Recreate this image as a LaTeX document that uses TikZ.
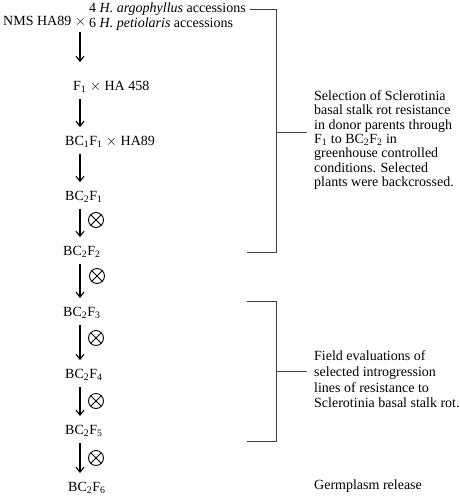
\documentclass[tikz,border=0pt]{standalone}
\usepackage{fontspec}
\setmainfont{Liberation Serif}
\usetikzlibrary{arrows.meta}
\tikzset{
  every node/.style={font=\fontsize{14}{15}\selectfont, inner sep=1pt},
  gen/.style={anchor=west},
  note/.style={anchor=west, align=left, inner xsep=7pt},
  arr/.style={-{Straight Barb[length=5pt,width=8pt]}, line width=1.1pt, shorten <=5pt, shorten >=8pt},
  brk/.style={line width=0.9pt, draw=black!75},
  selfx/.style={circle, draw, line width=0.9pt, minimum size=15pt, inner sep=0pt,
    path picture={\draw[line width=0.9pt] (path picture bounding box.north west) -- (path picture bounding box.south east)
      (path picture bounding box.north east) -- (path picture bounding box.south west);}},
}
\begin{document}
\begin{tikzpicture}[x=1pt,y=-1pt]
\useasboundingbox (0,0) rectangle (459,498);
% initial crosses
\node[gen] (nms) at (2,21) {NMS HA89 $\times$};
\node[gen] (acc1) at (88,9) {4 \textit{H. argophyllus} accessions};
\node[gen] (acc2) at (88,24) {6 \textit{H. petiolaris} accessions};
\node[gen] (f1) at (72,87) {F\textsubscript{1} $\times$ HA 458};
\node[gen] (bc1) at (64,142) {BC\textsubscript{1}F\textsubscript{1} $\times$ HA89};
% backcross progeny, selfed
\node[gen] (bc21) at (64,197) {BC\textsubscript{2}F\textsubscript{1}};
\node[gen] (bc22) at (62,252) {BC\textsubscript{2}F\textsubscript{2}};
\node[gen] (bc23) at (62,313) {BC\textsubscript{2}F\textsubscript{3}};
\node[gen] (bc24) at (64,375) {BC\textsubscript{2}F\textsubscript{4}};
\node[gen] (bc25) at (64,431) {BC\textsubscript{2}F\textsubscript{5}};
\node[gen] (bc26) at (67,488) {BC\textsubscript{2}F\textsubscript{6}};
\node[selfx] (s1) at (96,220) {};
\node[selfx] (s2) at (97,276) {};
\node[selfx] (s3) at (96,338) {};
\node[selfx] (s4) at (96,401) {};
\node[selfx] (s5) at (96,458) {};
% arrows down the column
\coordinate (col) at (80,0);
\draw[arr, shorten >=18pt] (nms.south -| col) -- (f1.north -| col);
\draw[arr] (f1.south -| col) -- (bc1.north -| col);
\draw[arr] (bc1.south -| col) -- (bc21.north -| col);
\draw[arr] (bc21.south -| col) -- (bc22.north -| col);
\draw[arr] (bc22.south -| col) -- (bc23.north -| col);
\draw[arr] (bc23.south -| col) -- (bc24.north -| col);
\draw[arr] (bc24.south -| col) -- (bc25.north -| col);
\draw[arr] (bc25.south -| col) -- (bc26.north -| col);
% brackets and notes
\coordinate (br) at (276,0);
\coordinate (bl) at (247,0);
\node[note, font=\fontsize{14}{14.4}\selectfont] (sel) at (307,140) {Selection of Sclerotinia\\basal stalk rot resistance\\in donor parents through\\F\textsubscript{1} to BC\textsubscript{2}F\textsubscript{2} in\\greenhouse controlled\\conditions. Selected\\plants were backcrossed.};
\node[note, font=\fontsize{14}{15.7}\selectfont] (fld) at (307,379.5) {Field evaluations of\\selected introgression\\lines of resistance to\\Sclerotinia basal stalk rot.};
\node[note] (rel) at (307,486) {Germplasm release};
\draw[brk] ([xshift=3pt]acc1.east) -- (acc1.east -| br) -- (bc22.east -| br) -- (bc22.east -| bl);
\draw[brk] (br |- 0,132) -- (sel.west |- 0,132);
\draw[brk] (bl |- 0,301) -- (br |- 0,301) -- (br |- 0,441) -- (bl |- 0,441);
\draw[brk] (br |- 0,371) -- (fld.west |- 0,371);
\end{tikzpicture}
\end{document}
